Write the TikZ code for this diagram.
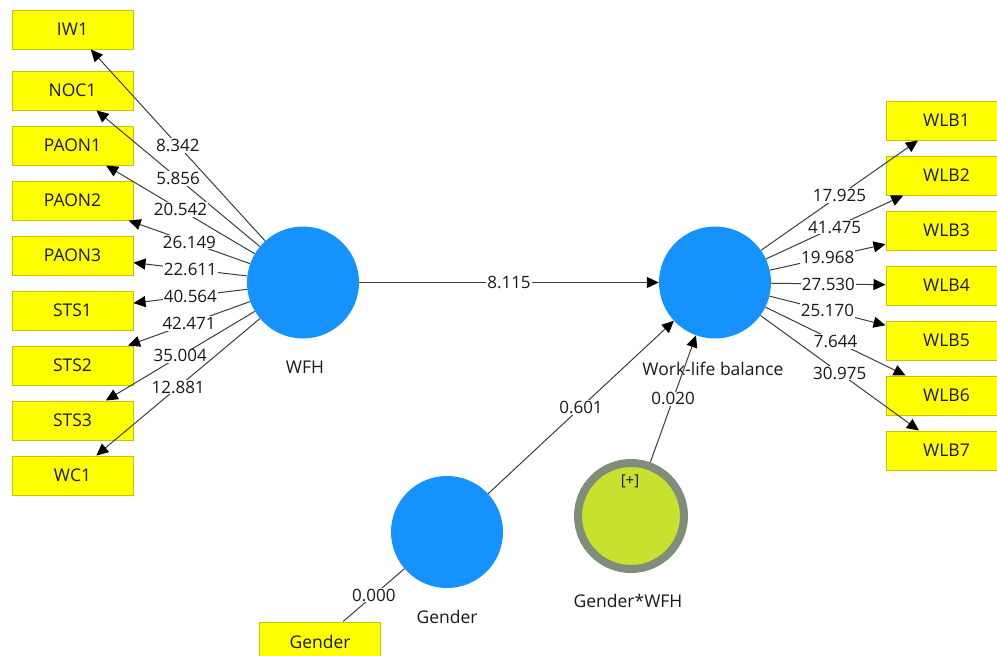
\documentclass[tikz,border=0pt]{standalone}
\usepackage{fontspec}
\setmainfont{Open Sans}
\usetikzlibrary{arrows.meta}
\definecolor{boxyel}{RGB}{255,255,0}
\definecolor{boxedge}{RGB}{200,196,0}
\definecolor{lvblue}{RGB}{22,146,255}
\definecolor{ringgray}{RGB}{126,142,122}
\definecolor{modfill}{RGB}{200,224,46}
\definecolor{linegray}{RGB}{60,60,60}
\definecolor{txt}{RGB}{25,25,25}
\begin{document}
\begin{tikzpicture}[x=1pt,y=-1pt,
  ind/.style={rectangle, fill=boxyel, draw=boxedge, line width=1pt, minimum width=121pt, minimum height=39pt, inner sep=0pt, font=\fontsize{17.5}{20}\selectfont, text=txt},
  lv/.style={circle, fill=lvblue, minimum size=112pt, inner sep=0pt},
  lvlabel/.style={font=\fontsize{17.5}{20}\selectfont, text=txt},
  conn/.style={draw=linegray, line width=1pt, -{Triangle[length=12pt,width=11pt,color=black]}},
  plainconn/.style={draw=linegray, line width=1pt},
  lbl/.style={fill=white, inner sep=1pt, font=\fontsize{17}{20}\selectfont, text=txt, pos=0.5}
]
\useasboundingbox (0,0) rectangle (997,656);
\clip (0,0) rectangle (997,656);

% left indicators
\node[ind] (iw1)   at (72.5,29.5)  {IW1};
\node[ind] (noc1)  at (72.5,90.5)  {NOC1};
\node[ind] (paon1) at (72.5,145.5) {PAON1};
\node[ind] (paon2) at (72.5,200.5) {PAON2};
\node[ind] (paon3) at (72.5,255.5) {PAON3};
\node[ind] (sts1)  at (72.5,310.5) {STS1};
\node[ind] (sts2)  at (72.5,365.5) {STS2};
\node[ind] (sts3)  at (72.5,420.5) {STS3};
\node[ind] (wc1)   at (72.5,475.5) {WC1};

% right indicators
\node[ind] (wlb1) at (946.5,120.5) {WLB1};
\node[ind] (wlb2) at (946.5,175.5) {WLB2};
\node[ind] (wlb3) at (946.5,230.5) {WLB3};
\node[ind] (wlb4) at (946.5,285.5) {WLB4};
\node[ind] (wlb5) at (946.5,340.5) {WLB5};
\node[ind] (wlb6) at (946.5,395.5) {WLB6};
\node[ind] (wlb7) at (946.5,450.5) {WLB7};

% gender indicator
\node[ind] (genbox) at (320,641.5) {Gender};

% latent variables
\node[lv] (wfh) at (303,282.5) {};
\node[lv] (wlb) at (715,282.5) {};
\node[lv] (gen) at (447,532) {};
\node[circle, fill=modfill, draw=ringgray, line width=8pt, minimum size=106pt, inner sep=0pt] (gw) at (631,516) {};
\node[font=\fontsize{15}{17}\selectfont, text=txt] (plus) at (630,481) {[+]};

% latent labels
\node[lvlabel] (wfhlab) at (305,367) {WFH};
\node[lvlabel] (wlblab) at (713,369) {Work-life balance};
\node[lvlabel] (genlab) at (447,617) {Gender};
\node[lvlabel] (gwlab)  at (628,601) {Gender*WFH};

% outer model WFH
\draw[conn] (wfh) -- node[lbl]{8.342} (iw1);
\draw[conn] (wfh) -- node[lbl]{5.856} (noc1);
\draw[conn] (wfh) -- node[lbl]{20.542} (paon1);
\draw[conn] (wfh) -- node[lbl]{26.149} (paon2);
\draw[conn] (wfh) -- node[lbl]{22.611} (paon3);
\draw[conn] (wfh) -- node[lbl]{40.564} (sts1);
\draw[conn] (wfh) -- node[lbl]{42.471} (sts2);
\draw[conn] (wfh) -- node[lbl]{35.004} (sts3);
\draw[conn] (wfh) -- node[lbl]{12.881} (wc1);

% outer model WLB
\draw[conn] (wlb) -- node[lbl]{17.925} (wlb1);
\draw[conn] (wlb) -- node[lbl]{41.475} (wlb2);
\draw[conn] (wlb) -- node[lbl]{19.968} (wlb3);
\draw[conn] (wlb) -- node[lbl]{27.530} (wlb4);
\draw[conn] (wlb) -- node[lbl]{25.170} (wlb5);
\draw[conn] (wlb) -- node[lbl]{7.644} (wlb6);
\draw[conn] (wlb) -- node[lbl]{30.975} (wlb7);

% gender
\draw[plainconn] (gen) -- node[lbl]{0.000} (genbox);

% inner model
\draw[conn] (wfh) -- node[lbl]{8.115} (wlb);
\draw[conn] (gen) -- node[lbl]{0.601} (wlb);
\draw[conn] (gw) -- node[lbl]{0.020} (wlb);
\end{tikzpicture}
\end{document}
